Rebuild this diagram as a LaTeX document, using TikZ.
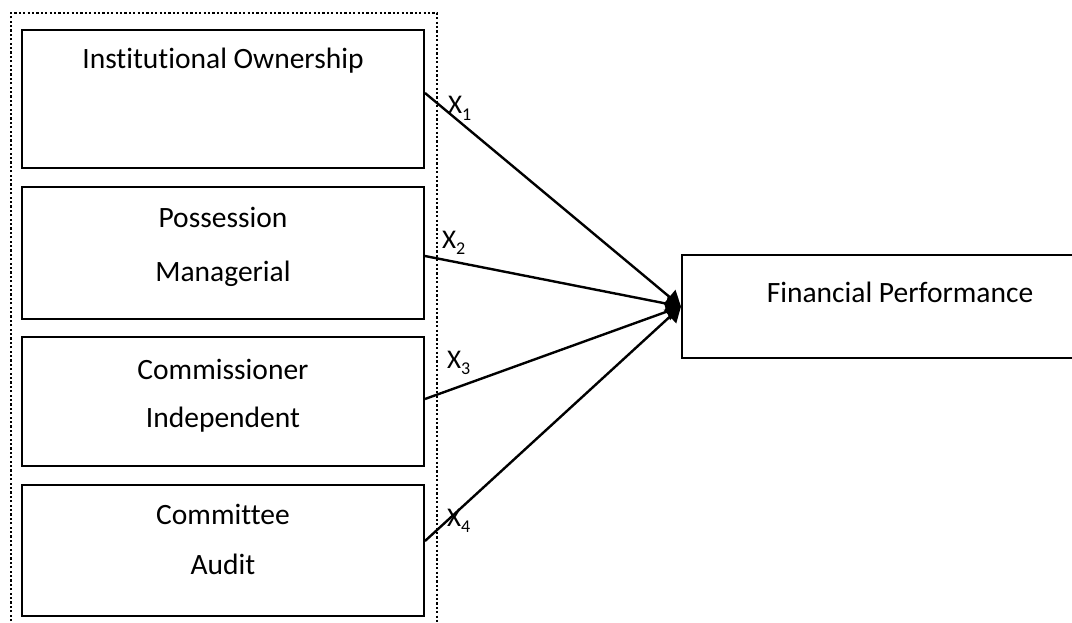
\documentclass[tikz,border=0pt]{standalone}
\usepackage{fontspec}
\setmainfont{Carlito}[Ligatures=NoCommon]
\usetikzlibrary{arrows.meta}
\newcommand{\subsc}[1]{\raisebox{-0.25em}{\fontsize{18}{20}\selectfont #1}}
\begin{document}
\begin{tikzpicture}[x=1pt,y=-1pt,
  box/.style={draw,line width=2pt,rectangle,inner sep=0pt},
  lbl/.style={font=\fontsize{29.5}{32}\selectfont,inner sep=0pt,anchor=base},
  conn/.style={line width=2.4pt,-{Triangle[length=15pt,width=18pt]}},
  xl/.style={font=\fontsize{27}{30}\selectfont,inner sep=0pt,anchor=base west}]
\useasboundingbox (0,0) rectangle (1072,623);
\draw[line width=2.6pt,dash pattern=on 2.2pt off 2.2pt] (11,630) -- (11,13) -- (437,13) -- (437,630);
\node[box,minimum width=402pt,minimum height=138pt] (b1) at (223,99) {};
\node[box,minimum width=402pt,minimum height=132pt] (b2) at (223,253) {};
\node[box,minimum width=402pt,minimum height=129pt] (b3) at (223,401.5) {};
\node[box,minimum width=402pt,minimum height=131pt] (b4) at (223,550.5) {};
\node[box,minimum width=400pt,minimum height=103pt] (fin) at (882,306.5) {};
\node[lbl] (t1) at (223,69) {Institutional Ownership};
\node[lbl] (t2a) at (223,227) {Possession};
\node[lbl] (t2b) at (223,281) {Managerial};
\node[lbl] (t3a) at (223,379) {Commissioner};
\node[lbl] (t3b) at (223,427) {Independent};
\node[lbl] (t4a) at (223,524) {Committee};
\node[lbl] (t4b) at (223,574) {Audit};
\node[lbl] (tf) at (900,302) {Financial Performance};
\coordinate (s1) at ([yshift=6pt]b1.east);
\coordinate (s2) at ([yshift=-3pt]b2.east);
\coordinate (s3) at ([yshift=2.5pt]b3.east);
\coordinate (s4) at ([yshift=9.5pt]b4.east);
\draw[conn] (s1) -- (fin.west);
\draw[conn] (s2) -- (fin.west);
\draw[conn] (s3) -- (fin.west);
\draw[conn] (s4) -- (fin.west);
\node[xl] (x1) at (448,114) {X\subsc{1}};
\node[xl] (x2) at (442,248) {X\subsc{2}};
\node[xl] (x3) at (447,368) {X\subsc{3}};
\node[xl] (x4) at (447,526) {X\subsc{4}};
\end{tikzpicture}
\end{document}
